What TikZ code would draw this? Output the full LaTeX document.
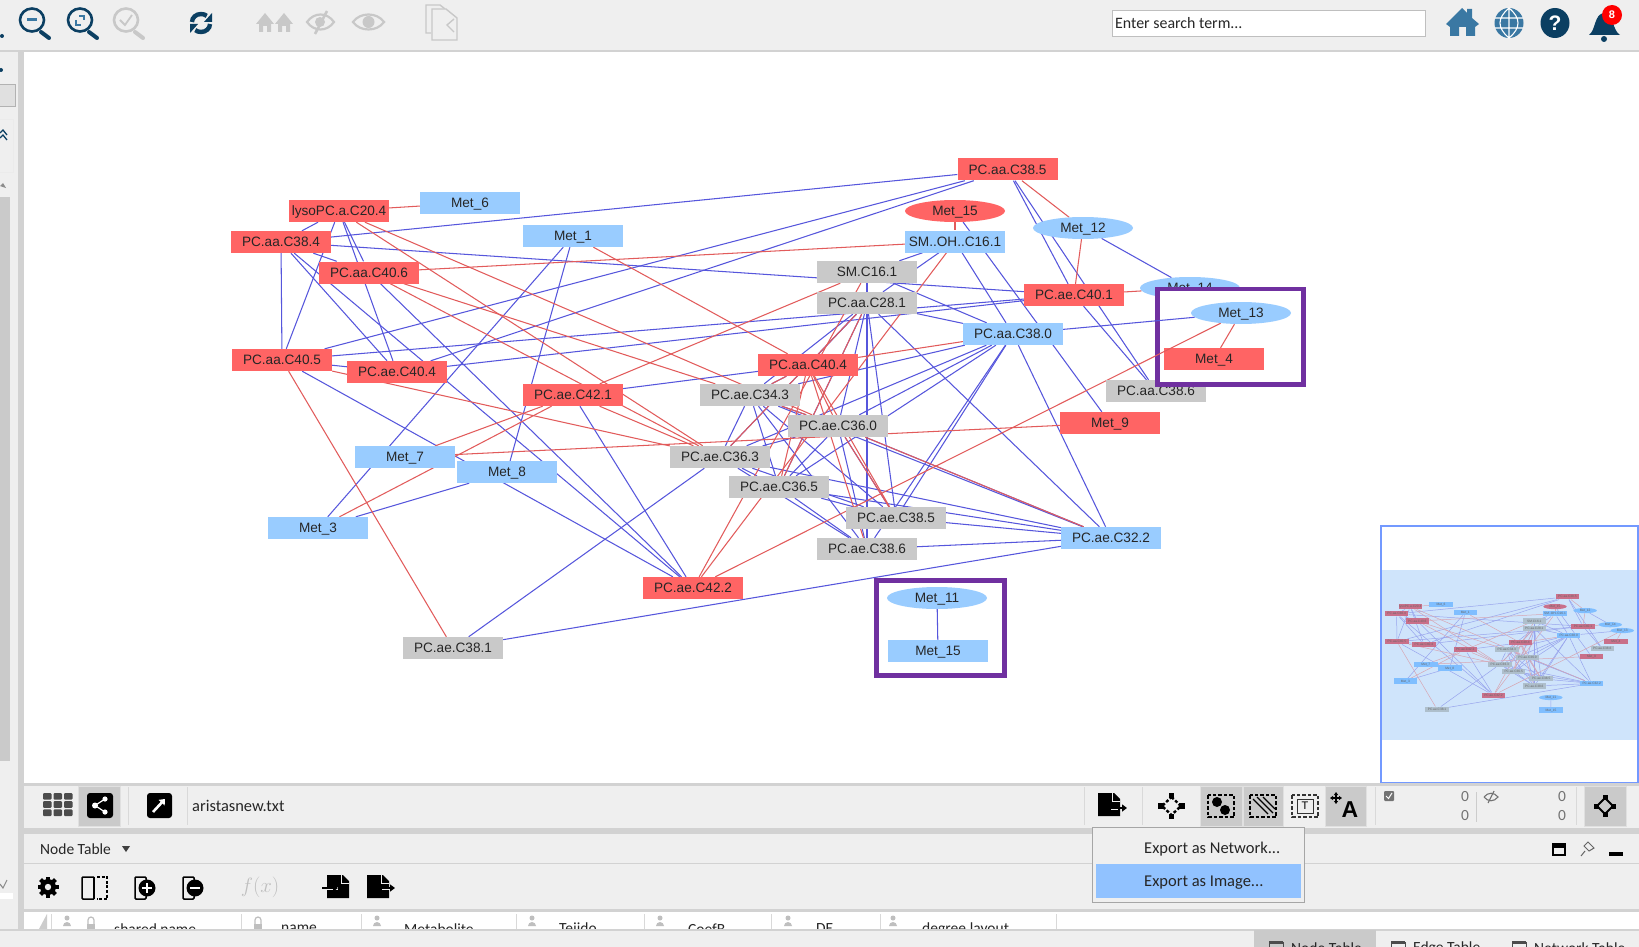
\documentclass[tikz,border=0pt]{standalone}
\usepackage{fontspec}
\setmainfont{Liberation Sans}
\newfontfamily\uifont{Carlito}
\usetikzlibrary{shapes.geometric, arrows.meta}
\definecolor{netred}{HTML}{FF6464}
\definecolor{netblue}{HTML}{99CCFF}
\definecolor{netgrey}{HTML}{C9C9C9}
\definecolor{edgeblue}{HTML}{5656DC}
\definecolor{edgered}{HTML}{E25B5B}
\definecolor{panelgrey}{HTML}{EFEFEF}
\definecolor{barline}{HTML}{D2D2D2}
\definecolor{btngrey}{HTML}{CACACA}
\definecolor{icondark}{HTML}{0B3F62}
\definecolor{iconmid}{HTML}{3A78A3}
\definecolor{iconoff}{HTML}{C8C8C8}
\definecolor{framepurple}{HTML}{7030A0}
\definecolor{viewblue}{HTML}{CFE4FB}
\definecolor{minired}{HTML}{C9708A}
\definecolor{minigrey}{HTML}{AEBFCC}
\definecolor{miniblue}{HTML}{7FBEFF}
\pgfdeclarelayer{canvas}
\pgfdeclarelayer{edges}
\pgfdeclarelayer{frame}
\pgfdeclarelayer{front}
\pgfsetlayers{canvas,edges,main,frame,front}
\tikzset{
    netbox/.style={rectangle, minimum width=100pt, minimum height=22pt, inner sep=0pt, text height=9.5pt, text depth=0pt, text=black!85, font=\fontsize{13.6}{14}\selectfont},
    redbox/.style={netbox, fill=netred},
    bluebox/.style={netbox, fill=netblue},
    greybox/.style={netbox, fill=netgrey},
    redoval/.style={netbox, ellipse, fill=netred},
    blueoval/.style={netbox, ellipse, fill=netblue},
    minibox/.style={minimum width=23.5pt, minimum height=5.2pt, text height=2.2pt, font=\fontsize{3.2}{3.4}\selectfont, text=black!60},
    bedge/.style={edgeblue, line width=1.05pt},
    redge/.style={edgered, line width=1.05pt},
    uilabel/.style={inner sep=0pt, anchor=west, text=black!85, font=\uifont\fontsize{15.5}{16}\selectfont},
    menulabel/.style={uilabel, font=\uifont\fontsize{16.5}{17}\selectfont},
    purpleframe/.style={draw=framepurple, line width=4.6pt, fill=white},
    toggled/.style={fill=btngrey, draw=black!12, line width=.6pt},
    blackicon/.style={fill=black, rounded corners=3pt},
    lens/.style={line width=2.6pt, line cap=round},
}
\newcommand{\netnodes}{%
    lyso/339/211/lysoPC.a.C20.4/redbox, met6/470/203/Met\_6/bluebox, aa384/281/242/PC.aa.C38.4/redbox,
    met1/573/236/Met\_1/bluebox, aa406/369/272.5/PC.aa.C40.6/redbox, aa405/282/360/PC.aa.C40.5/redbox,
    ae404/397/372/PC.ae.C40.4/redbox, ae421/573/395/PC.ae.C42.1/redbox, aa385/1007.5/169.5/PC.aa.C38.5/redbox,
    metr15/955/211/Met\_15/redoval, smoh/955/241.5/SM..OH..C16.1/bluebox, met12/1083/228/Met\_12/blueoval,
    sm161/867/272/SM.C16.1/greybox, aa281/867/303/PC.aa.C28.1/greybox, ae401/1074/295/PC.ae.C40.1/redbox,
    met14/1190/288/Met\_14/blueoval, aa380/1013/334/PC.aa.C38.0/bluebox, aa404/808/365/PC.aa.C40.4/redbox,
    ae343/750/395/PC.ae.C34.3/greybox, aa386/1156/391/PC.aa.C38.6/greybox, met9/1110/423/Met\_9/redbox,
    ae360/838/426/PC.ae.C36.0/greybox, ae363/720/457/PC.ae.C36.3/greybox, ae365/779/487/PC.ae.C36.5/greybox,
    ae385/896/518/PC.ae.C38.5/greybox, ae386/867/549/PC.ae.C38.6/greybox, ae322/1111/538/PC.ae.C32.2/bluebox,
    ae422/693/588/PC.ae.C42.2/redbox, ae381/453/648/PC.ae.C38.1/greybox, met7/405/457/Met\_7/bluebox,
    met8/507/472/Met\_8/bluebox, met3/318/528/Met\_3/bluebox}
\newcommand{\framednodes}{%
    met13/1241/313/Met\_13/blueoval, met4/1214/359/Met\_4/redbox,
    met11/937/598/Met\_11/blueoval, met15/938/651/Met\_15/bluebox}
\newcommand{\blueedges}{%
    lyso/aa384, lyso/aa405, lyso/ae404, lyso/aa406, aa384/aa385, aa384/ae401, aa384/aa405, aa384/ae404,
    aa384/ae422, aa384/aa406, aa406/ae422, aa405/aa385, aa405/ae401, aa405/ae404, aa405/ae422,
    ae404/aa385, ae404/ae401, met1/met3, met1/met8, ae421/aa404, ae421/ae422, met3/met8, ae381/ae363,
    ae381/ae322, aa385/ae401, aa385/aa386, ae401/aa386, met12/met14, metr15/met9, smoh/aa380, smoh/sm161,
    smoh/aa281, sm161/aa380, aa281/aa380, sm161/ae386, aa281/ae386, aa281/ae385, aa281/ae322, aa281/aa404,
    aa281/ae343, aa281/ae360, aa281/ae363, aa281/ae365, aa380/ae343, aa380/ae360, aa380/ae363, aa380/ae365,
    aa380/ae385, aa380/ae386, aa380/ae322, aa404/ae343, ae343/ae360, ae343/ae363, ae343/ae365, ae343/ae385,
    ae343/ae386, ae343/ae322, ae360/ae363, ae360/ae365, ae360/ae385, ae360/ae386, ae360/ae322, ae363/ae365,
    ae363/ae386, ae363/ae385, ae363/ae322, ae365/ae385, ae365/ae386, ae365/ae322, ae385/ae322, ae386/ae322}
\newcommand{\rededges}{%
    lyso/met6, lyso/ae363, lyso/ae360, aa406/smoh, aa406/ae363, aa406/ae343, aa405/ae363, aa405/ae381,
    met1/aa404, ae421/sm161, ae421/ae363, met3/ae421, met7/ae421, met7/met9, aa385/met12, met12/ae401,
    metr15/smoh, ae401/met14, aa404/aa380, ae422/sm161, ae422/smoh, aa404/ae343, aa404/ae365, aa404/ae360,
    aa404/ae385, aa404/ae386, ae343/ae360, ae360/ae322, ae360/ae385, aa281/ae365, aa281/ae363}
\newcommand{\lensicon}[3]{%
    \draw[#3, lens] (#1,#2) ellipse (12pt and 11.5pt);
    \draw[#3, line width=4pt, line cap=round] (#1+9,#2+12) -- (#1+17,#2+18);}
\newcommand{\docicon}[3]{%
    \fill[#3] (#1,#2) -- (#1+16,#2) -- (#1+22,#2+6) -- (#1+22,#2+23) -- (#1,#2+23) -- cycle;
    \draw[panelgrey, line width=.9pt] (#1+14,#2) -- (#1+14,#2+8) -- (#1+22,#2+8);}
\newcommand{\houseicon}[1]{%
    \fill[iconoff] (#1,24) -- (#1+9,13) -- (#1+18,24) -- (#1+15,24) -- (#1+15,32) -- (#1+11,32) -- (#1+11,26) -- (#1+7,26) -- (#1+7,32) -- (#1+3,32) -- (#1+3,24) -- cycle;}
\newcommand{\personmark}[1]{%
    \fill[black!25] (#1,918) circle (2.5pt);
    \fill[black!25] (#1-4,926) arc (180:0:4pt) -- cycle;}
\begin{document}
\begin{tikzpicture}[x=1pt, y=-1pt]
    \useasboundingbox (0,0) rectangle (1639,947);

    \begin{pgfonlayer}{canvas}
        \fill[white] (0,0) rectangle (1639,947);
        \fill[viewblue] (1382,570) rectangle (1638,740);
    \end{pgfonlayer}

    \foreach \nm/\xx/\yy/\txt/\kind in \netnodes {
        \node[\kind] (\nm) at (\xx,\yy) {\txt};
    }
    \begin{pgfonlayer}{front}
        \foreach \nm/\xx/\yy/\txt/\kind in \framednodes {
            \node[\kind] (\nm) at (\xx,\yy) {\txt};
        }
        \draw[redge] (met13) -- (met4);
        \draw[bedge] (met11) -- (met15);
    \end{pgfonlayer}
    \begin{pgfonlayer}{edges}
        \foreach \a/\b in \blueedges { \draw[bedge] (\a) -- (\b); }
        \foreach \a/\b in \rededges { \draw[redge] (\a) -- (\b); }
        \draw[bedge] (met13) -- (aa380);
        \draw[redge] (met13) -- (ae422);
    \end{pgfonlayer}

    \begin{pgfonlayer}{frame}
        \draw[purpleframe] (1157.5,289) rectangle (1303.5,384.7);
        \draw[purpleframe] (876.3,580.6) rectangle (1004.4,675.4);
    \end{pgfonlayer}
    \begin{pgfonlayer}{front}
        \begin{scope}
            \clip (1155,287) rectangle (1306,387);
            \draw[bedge] (met13) -- (aa380);
            \draw[redge] (met13) -- (ae422);
        \end{scope}
    \end{pgfonlayer}

    % overview
    {
    \colorlet{netred}{minired}
    \colorlet{netgrey}{minigrey}
    \colorlet{netblue}{miniblue}
    \colorlet{edgeblue}{edgeblue!45!viewblue}
    \colorlet{edgered}{edgered!45!viewblue}
    \foreach \nm/\xx/\yy/\txt/\kind in \netnodes {
        \node[\kind, minibox] (m\nm) at ({\xx*0.235+1330.6},{\yy*0.235+557}) {\txt};
    }
    \foreach \nm/\xx/\yy/\txt/\kind in \framednodes {
        \node[\kind, minibox] (m\nm) at ({\xx*0.235+1330.6},{\yy*0.235+557}) {\txt};
    }
    \begin{pgfonlayer}{edges}
        \foreach \a/\b in \blueedges { \draw[edgeblue, line width=.5pt] (m\a) -- (m\b); }
        \foreach \a/\b in \rededges { \draw[edgered, line width=.5pt] (m\a) -- (m\b); }
        \draw[edgeblue, line width=.5pt] (mmet13) -- (maa380);
        \draw[edgered, line width=.5pt] (mmet13) -- (mae422);
        \draw[edgered, line width=.5pt] (mmet13) -- (mmet4);
        \draw[edgeblue, line width=.5pt] (mmet11) -- (mmet15);
    \end{pgfonlayer}
    }
    \draw[draw=netblue!75!blue, line width=1.4pt] (1381,526) rectangle (1638,783);

    % top bar
    \fill[panelgrey] (0,0) rectangle (1639,50);
    \fill[barline] (0,50) rectangle (1639,52);
    \fill[icondark] (2,36) circle (2pt);
    \lensicon{32}{20}{icondark}
    \fill[iconmid] (27,18.5) rectangle (37,21.5);
    \lensicon{80}{20}{icondark}
    \draw[iconmid, line width=1.6pt] (76,20) -- (76,25) -- (81,25);
    \draw[iconmid, line width=1.6pt] (79,16) -- (84,16) -- (84,20);
    \lensicon{126}{20}{iconoff}
    \draw[iconoff, line width=1.8pt] (120,20) -- (125,25) -- (132,15);
    \draw[icondark, line width=4.4pt] (192,22) arc (180:50:9pt and 8pt);
    \fill[icondark] (204,22) -- (212,22) -- (212,13) -- cycle;
    \draw[icondark, line width=4.4pt] (210,24) arc (0:-130:9pt and 8pt);
    \fill[icondark] (190,24) -- (198,24) -- (190,33) -- cycle;
    \houseicon{256}
    \houseicon{275}
    \draw[iconoff, line width=2.2pt] (307,22) .. controls (314,12) and (327,12) .. (334,22) .. controls (327,32) and (314,32) .. (307,22) -- cycle;
    \fill[iconoff] (320,22) circle (5pt);
    \draw[iconoff, line width=2.6pt] (327,11) -- (315,34);
    \draw[iconoff, line width=2.2pt] (353,22) .. controls (360,12) and (377,12) .. (384,22) .. controls (377,32) and (360,32) .. (353,22) -- cycle;
    \fill[iconoff] (368.5,22) circle (6pt);
    \draw[iconoff, line width=1.4pt] (431,33) -- (426,33) -- (426,5) -- (440,5) -- (445,9);
    \draw[iconoff, line width=1.4pt, fill=panelgrey] (432,9) -- (446,9) -- (457,18) -- (457,40) -- (432,40) -- cycle;
    \draw[iconoff, line width=1.4pt] (454,19) -- (447,25) -- (454,32);
    \draw[draw=black!25, fill=white, line width=.9pt] (1112,10) rectangle (1425,36);
    \node[uilabel, font=\uifont\fontsize{15.9}{16}\selectfont] (searchbox) at (1115,23) {Enter search term...};
    \fill[iconmid] (1446,24) -- (1462,8) -- (1467,13) -- (1467,9) -- (1472,9) -- (1472,18) -- (1479,24) -- (1475,27) -- (1475,36) -- (1466,36) -- (1466,27) -- (1459,27) -- (1459,36) -- (1450,36) -- (1450,27) -- cycle;
    \fill[iconmid] (1509,23) ellipse (14.5pt and 15pt);
    \draw[white, line width=1.1pt] (1509,8) -- (1509,38) (1495,18) -- (1523,18) (1495,28) -- (1523,28) (1509,8) .. controls (1497,18) and (1497,28) .. (1509,38) (1509,8) .. controls (1521,18) and (1521,28) .. (1509,38);
    \fill[icondark] (1555,23) ellipse (14.5pt and 15pt);
    \node[inner sep=0pt, text=white, font=\bfseries\fontsize{21}{21}\selectfont] (helpmark) at (1555,23) {?};
    \fill[icondark] (1589,35) .. controls (1596,30) and (1594,14) .. (1604,13) .. controls (1614,14) and (1612,30) .. (1620,35) -- cycle;
    \fill[icondark] (1604,39) circle (3pt);
    \fill[red] (1612,15) circle (10pt);
    \node[inner sep=0pt, text=white, font=\bfseries\fontsize{11}{11}\selectfont] (bellcount) at (1612,15) {8};

    % left panel
    \fill[panelgrey] (0,52) rectangle (18,930);
    \fill[barline] (18,52) rectangle (24,930);
    \fill[icondark] (1,70) circle (2pt);
    \draw[draw=black!30, fill=black!12, line width=.8pt] (-2,84) rectangle (15,106);
    \draw[draw=black!8, fill=panelgrey] (-2,119) rectangle (13,172);
    \draw[icondark, line width=1.3pt] (0,133) -- (3,130) -- (7,135) (0,138) -- (3,135) -- (7,140);
    \fill[black!45] (0,186) -- (3,183) -- (6,188) -- cycle;
    \fill[btngrey] (0,197) rectangle (10,761);
    \draw[black!45, line width=1.1pt] (0,884) -- (3,888) -- (7,880);
    \fill[white] (0,893) rectangle (13,899);

    % network toolbar
    \fill[panelgrey] (24,784) rectangle (1639,930);
    \fill[barline] (24,783) rectangle (1639,785.5);
    \fill[barline] (24,828) rectangle (1639,834);
    \fill[barline] (24,862.5) rectangle (1639,864);
    \fill[barline] (24,909) rectangle (1639,912);
    \foreach \i in {0,1,2} { \foreach \j in {0,1,2} {
        \fill[black!70, rounded corners=1pt] (43+\i*10.5,793+\j*8.2) rectangle +(8.5,6.6);
    } }
    \fill[toggled] (78.5,786) rectangle (120,826);
    \fill[blackicon] (87,793) rectangle (113,818);
    \draw[white, line width=1.2pt] (95,805.5) -- (105,799) (95,805.5) -- (105,812);
    \fill[white] (95,805.5) circle (3pt) (105,799) circle (2.6pt) (105,812) circle (2.6pt);
    \draw[black!15, line width=.8pt] (128,787) -- (128,825) (187,787) -- (187,825) (1084,787) -- (1084,825) (1142,787) -- (1142,825) (1375,787) -- (1375,825) (1576,787) -- (1576,825);
    \fill[blackicon] (147,793) rectangle (172,818);
    \draw[white, line width=2.6pt, -{Triangle[length=5pt,width=8pt]}] (153,812) -- (165,799);
    \node[uilabel, font=\uifont\fontsize{16.4}{17}\selectfont] (netname) at (192,806) {aristasnew.txt};

    \docicon{1098}{793}{black}
    \draw[panelgrey, line width=3pt] (1111,808) -- (1118,808);
    \draw[black, line width=1.6pt, -{Triangle[length=5pt,width=7pt]}] (1111,808) -- (1127,808);
    \draw[black, line width=2.4pt, dash pattern=on 3pt off 2pt] (1171.5,797) -- (1181,806) -- (1171.5,815) -- (1162,806) -- cycle;
    \foreach \ang in {0,90,180,270} { \fill[black] (1171.5,806) ++(\ang:10.5) +(-2.6,-2.6) rectangle +(2.6,2.6); }
    \fill[toggled] (1200,786) rectangle (1242,826);
    \draw[black, line width=1.6pt, dash pattern=on 3.5pt off 2pt] (1208,795) rectangle (1234,817);
    \fill[black] (1217,802) circle (5pt) (1225,810) circle (5pt);
    \fill[toggled] (1243,786) rectangle (1283,826);
    \draw[black, line width=1.6pt, dash pattern=on 3.5pt off 2pt] (1250,795) rectangle (1276,817);
    \draw[black, line width=1.2pt] (1253,799) -- (1268,814) (1257,797) -- (1273,813) (1263,797) -- (1275,809);
    \draw[black!80, line width=1.6pt, dash pattern=on 3.5pt off 2pt] (1292,795) rectangle (1318,817);
    \draw[black!80, line width=1pt] (1297,799) rectangle (1313,813);
    \node[inner sep=0pt, font=\fontsize{11}{11}\selectfont] (tbox) at (1305,806) {T};
    \fill[toggled] (1325,786) rectangle (1366,826);
    \node[inner sep=0pt, font=\bfseries\fontsize{23}{23}\selectfont, text=black] (abig) at (1350,810) {A};
    \draw[black, line width=1.2pt, {Triangle[length=3pt,width=4pt]}-{Triangle[length=3pt,width=4pt]}] (1330,798) -- (1342,798);
    \draw[black, line width=1.2pt, {Triangle[length=3pt,width=4pt]}-{Triangle[length=3pt,width=4pt]}] (1336,792) -- (1336,804);
    \fill[black!55, rounded corners=1pt] (1384,791) rectangle (1394,801);
    \draw[white, line width=1pt] (1386,796) -- (1388.5,798.5) -- (1392,793);
    \foreach \xx/\yy/\nm in {1465/797/zeroa, 1465/816/zerob, 1562/797/zeroc, 1562/816/zerod} {
        \node[uilabel, anchor=center, text=black!55] (\nm) at (\xx,\yy) {0};
    }
    \draw[black!20, line width=.8pt] (1476,792) -- (1476,822);
    \draw[black!55, line width=1.1pt] (1484,797) .. controls (1488,792) and (1494,792) .. (1498,797) .. controls (1494,802) and (1488,802) .. (1484,797);
    \draw[black!55, line width=1.1pt] (1494,791) -- (1488,803);
    \fill[toggled] (1584,786) rectangle (1626,826);
    \draw[black, line width=2pt] (1605,798) -- (1613,806) -- (1605,814) -- (1597,806) -- cycle;
    \foreach \ang in {0,90,180,270} { \fill[black] (1605,806) ++(\ang:8.5) +(-2.5,-2.5) rectangle +(2.5,2.5); }

    % table panel
    \node[uilabel] (tabletitle) at (40,849) {Node Table};
    \fill[black!75] (122,846) -- (130,846) -- (126,852) -- cycle;
    \fill[black] (48,887) circle (8pt);
    \foreach \ang in {0,45,...,315} { \fill[black, rotate around={\ang:(48,887)}] (46,876.5) rectangle (50,880); }
    \fill[panelgrey] (48,887) circle (3.2pt);
    \draw[black, line width=1.5pt, rounded corners=1pt] (94,877) -- (82,877) -- (82,899) -- (94,899);
    \draw[black, line width=1.5pt, dash pattern=on 3pt off 1.6pt] (97,877) -- (107,877) -- (107,899) -- (97,899);
    \draw[black, line width=1.5pt] (94,877) -- (94,899);
    \draw[black, line width=1.5pt, rounded corners=1pt] (135,899) rectangle (146,877);
    \fill[black] (147,888) circle (8.5pt);
    \draw[white, line width=1.5pt] (142,888) -- (152,888) (147,883) -- (147,893);
    \draw[black, line width=1.5pt, rounded corners=1pt] (183,899) rectangle (194,877);
    \fill[black] (195,888) circle (8.5pt);
    \draw[white, line width=1.5pt] (190,888) -- (200,888);
    \node[inner sep=0pt, text=black!25, font=\itshape\rmfamily\fontsize{22}{22}\selectfont] (fxmark) at (260,887) {$f(x)$};
    \docicon{327}{875}{black}
    \draw[panelgrey, line width=3pt] (322,888) -- (338,888);
    \draw[black, line width=1.6pt, -{Triangle[length=5pt,width=7pt]}] (322,888) -- (338,888);
    \docicon{367}{875}{black}
    \draw[panelgrey, line width=3pt] (382,888) -- (395,888);
    \draw[black, line width=1.6pt, -{Triangle[length=5pt,width=7pt]}] (380,888) -- (395,888);
    \draw[black, line width=2pt] (1553,844) rectangle (1565,855);
    \fill[black] (1553,844) rectangle (1565,847.5);
    \draw[black!60, line width=1pt] (1588,842) -- (1594,848) -- (1589,851) -- (1584,846) -- cycle (1585,851) -- (1581,856);
    \fill[black] (1609,852) rectangle (1623,855.5);

    % table header
    \fill[white] (24,912) rectangle (1639,929);
    \fill[black!20] (39,929) -- (47,914) -- (47,929) -- cycle;
    \begin{scope}
        \clip (24,912) rectangle (1060,929);
        \foreach \xx/\nm/\txt in {114/colshared/shared name, 281/colname/name, 404/colmeta/Metabolite, 559/coltissue/Tejido, 688/colcoef/CoefB, 816/colde/DE, 922/coldegree/degree.layout} {
            \node[uilabel] (\nm) at (\xx,929) {\txt};
        }
    \end{scope}
    \foreach \xx in {51,241,361,516,644,771,880,1056} { \draw[black!15, line width=.8pt] (\xx,914) -- (\xx,929); }
    \foreach \xx in {67,377,532,660,788,893} { \personmark{\xx} }
    \foreach \xx in {88,255} { \draw[black!25, line width=1.2pt] (\xx,924) -- (\xx,920) arc (180:0:3pt) -- (\xx+6,924); \fill[black!25] (\xx-1,924) rectangle (\xx+7,929); }

    % status bar
    \fill[panelgrey] (0,930) rectangle (1639,947);
    \fill[barline] (0,929) rectangle (1639,930.5);
    \fill[btngrey] (1254,930) rectangle (1376,947);
    \foreach \xx/\nm/\txt in {1291/tabnode/Node Table, 1413/tabedge/Edge Table, 1534/tabnet/Network Table} {
        \node[uilabel] (\nm) at (\xx,948) {\txt};
        \draw[black!70, line width=1pt] (\xx-22,947) -- (\xx-22,942) -- (\xx-8,942) -- (\xx-8,947);
        \fill[black!70] (\xx-22,941) rectangle (\xx-8,944);
    }

    % export menu
    \draw[draw=black!35, fill=panelgrey, line width=1pt] (1092.5,827) rectangle (1304,902);
    \fill[netblue!95!blue] (1096,864) rectangle (1301,898);
    \node[menulabel] (menunetwork) at (1144,849) {Export as Network...};
    \node[menulabel] (menuimage) at (1144,883) {Export as Image...};
\end{tikzpicture}
\end{document}
